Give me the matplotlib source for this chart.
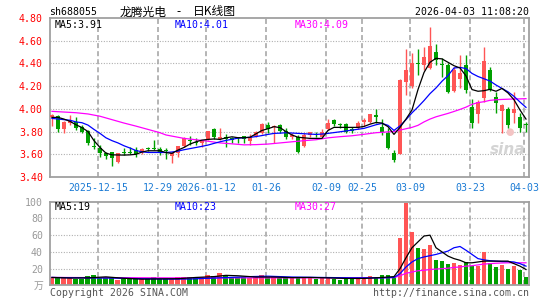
import matplotlib
matplotlib.use('Agg')
import matplotlib.pyplot as plt
import numpy as np

plt.rcParams['lines.scale_dashes'] = False
plt.rcParams['font.family'] = ['DejaVu Sans Mono', 'Noto Sans CJK SC']

# ---------------- data ----------------
opens = [3.930, 3.936, 3.822, 3.878, 3.884, 3.836, 3.804, 3.672, 3.657, 3.613,
         3.616, 3.534, 3.622, 3.620, 3.637, 3.616, 3.654, 3.655, 3.646, 3.637,
         3.584, 3.608, 3.672, 3.725, 3.710, 3.700, 3.734, 3.822, 3.731, 3.749,
         3.746, 3.750, 3.760, 3.719, 3.760, 3.790, 3.857, 3.837, 3.857, 3.804,
         3.749, 3.749, 3.672, 3.769, 3.781, 3.754, 3.819, 3.901, 3.863, 3.863,
         3.819, 3.828, 3.887, 3.887, 3.942, 3.837, 3.784, 3.608, 3.602, 4.239,
         4.200, 4.406, 4.386, 4.357, 4.497, 4.398, 4.386, 4.160, 4.260, 4.386,
         4.019, 3.954, 4.098, 4.342, 4.107, 3.984, 3.998, 3.960, 3.931, 3.869]
highs = [3.951, 3.948, 3.890, 3.945, 3.931, 3.857, 3.813, 3.740, 3.681, 3.622,
         3.622, 3.612, 3.651, 3.666, 3.666, 3.651, 3.666, 3.725, 3.666, 3.651,
         3.622, 3.675, 3.749, 3.760, 3.740, 3.725, 3.807, 3.828, 3.828, 3.778,
         3.754, 3.754, 3.760, 3.778, 3.804, 3.872, 3.887, 3.857, 3.866, 3.828,
         3.784, 3.769, 3.784, 3.798, 3.798, 3.819, 3.907, 3.907, 3.878, 3.872,
         3.837, 3.895, 3.916, 3.954, 3.995, 3.907, 3.828, 3.637, 4.260, 4.530,
         4.490, 4.524, 4.547, 4.724, 4.571, 4.445, 4.401, 4.371, 4.474, 4.474,
         4.083, 4.078, 4.547, 4.371, 4.151, 4.042, 4.013, 4.151, 3.960, 3.887]
lows = [3.851, 3.799, 3.784, 3.857, 3.813, 3.784, 3.681, 3.649, 3.572, 3.555,
        3.496, 3.525, 3.593, 3.600, 3.572, 3.602, 3.631, 3.637, 3.593, 3.555,
        3.525, 3.572, 3.666, 3.681, 3.681, 3.666, 3.725, 3.731, 3.725, 3.666,
        3.696, 3.700, 3.696, 3.681, 3.754, 3.778, 3.790, 3.700, 3.790, 3.731,
        3.731, 3.614, 3.666, 3.754, 3.749, 3.749, 3.813, 3.848, 3.828, 3.790,
        3.784, 3.819, 3.848, 3.878, 3.878, 3.769, 3.643, 3.534, 3.599, 4.122,
        4.180, 4.298, 4.342, 4.348, 4.386, 4.283, 4.136, 4.151, 4.180, 4.142,
        3.828, 3.872, 4.063, 4.160, 3.960, 3.790, 3.828, 3.872, 3.798, 3.798]
closes = [3.945, 3.822, 3.884, 3.901, 3.831, 3.795, 3.696, 3.663, 3.613, 3.587,
          3.563, 3.608, 3.613, 3.610, 3.602, 3.643, 3.649, 3.648, 3.613, 3.628,
          3.608, 3.672, 3.740, 3.716, 3.700, 3.716, 3.804, 3.749, 3.749, 3.737,
          3.728, 3.745, 3.731, 3.749, 3.796, 3.866, 3.819, 3.849, 3.807, 3.754,
          3.766, 3.622, 3.769, 3.793, 3.772, 3.793, 3.872, 3.866, 3.854, 3.798,
          3.807, 3.872, 3.898, 3.951, 3.931, 3.798, 3.652, 3.549, 4.254, 4.342,
          4.400, 4.395, 4.459, 4.553, 4.430, 4.389, 4.151, 4.342, 4.312, 4.166,
          3.878, 4.063, 4.421, 4.166, 4.054, 4.033, 3.857, 3.998, 3.834, 3.860]
volumes = [9.5, 8.5, 8.5, 8.5, 7.5, 7.5, 11, 12, 9.5, 9.5,
           9.5, 6.5, 7.3, 7.3, 7.3, 7.3, 7.3, 9.5, 7.3, 7.3,
           7.3, 9.5, 9.5, 9.5, 9.5, 9.5, 12.4, 11, 15, 12,
           9.5, 10, 9.5, 8.4, 9.6, 12.4, 9.6, 9.6, 8.4, 8.4,
           9.6, 9.6, 9.6, 9.6, 8, 9.6, 9.6, 8, 6.8, 8,
           8.8, 8, 8, 11.6, 9.6, 12.7, 12, 9.6, 56.6, 98.4,
           63.7, 44.6, 43.8, 47.8, 30.7, 28.7, 25.5, 26.7, 24.7, 27.9,
           23, 23, 40, 27, 22, 24, 20, 23, 18, 9.6]

# price moving averages, read at sample candles
ma5_idx = [0, 1, 2, 3, 4, 5, 6, 7, 8, 9, 10, 12, 13, 14, 15, 16, 18, 19, 20, 21,
           22, 23, 24, 25, 26, 27, 28, 29, 30, 31, 32, 33, 34, 35, 36, 37, 38, 39, 40, 41,
           43, 45, 46, 47, 51, 52, 53, 54, 55, 56, 57, 58, 59, 60, 61, 62, 63, 64, 65, 66,
           67, 68, 69, 70, 71, 72, 73, 74, 75, 76, 77, 78, 79]
ma5_val = [3.925, 3.925, 3.91, 3.89, 3.86, 3.835, 3.80, 3.72, 3.66, 3.61, 3.595, 3.593, 3.595, 3.60, 3.62, 3.631, 3.631, 3.615, 3.608, 3.637,
           3.66, 3.69, 3.71, 3.725, 3.731, 3.735, 3.731, 3.745, 3.754, 3.746, 3.746, 3.75, 3.78, 3.81, 3.825, 3.843, 3.835, 3.80, 3.77, 3.75,
           3.74, 3.74, 3.81, 3.837, 3.837, 3.845, 3.865, 3.88, 3.875, 3.843, 3.775, 3.837, 3.91, 3.99, 4.17, 4.32, 4.41, 4.445, 4.44, 4.41,
           4.38, 4.36, 4.29, 4.17, 4.155, 4.16, 4.172, 4.155, 4.18, 4.14, 4.08, 3.99, 3.91]
ma10_idx = [0, 2, 3, 4, 5, 6, 7, 8, 9, 10, 11, 12, 13, 14, 15, 16, 19, 20, 21, 22,
            23, 24, 25, 26, 27, 28, 29, 30, 31, 32, 33, 34, 35, 36, 37, 38, 39, 41, 44, 45,
            46, 48, 50, 52, 54, 55, 56, 57, 58, 59, 60, 61, 62, 63, 64, 65, 66, 67, 68, 69,
            70, 71, 72, 73, 74, 75, 76, 77, 78, 79]
ma10_val = [3.916, 3.905, 3.90, 3.885, 3.878, 3.857, 3.819, 3.784, 3.745, 3.72, 3.70, 3.675, 3.655, 3.633, 3.622, 3.616, 3.616, 3.62, 3.628, 3.64,
            3.65, 3.66, 3.67, 3.681, 3.696, 3.71, 3.722, 3.732, 3.742, 3.746, 3.749, 3.756, 3.765, 3.775, 3.784, 3.786, 3.79, 3.784, 3.775, 3.778,
            3.784, 3.798, 3.813, 3.828, 3.86, 3.872, 3.855, 3.81, 3.85, 3.905, 3.965, 4.017, 4.073, 4.134, 4.184, 4.243, 4.293, 4.36, 4.365, 4.355,
            4.312, 4.285, 4.265, 4.245, 4.21, 4.18, 4.15, 4.11, 4.06, 4.013]
ma30_idx = [0, 4, 6, 8, 10, 12, 14, 16, 18, 19, 20, 22, 24, 26, 28, 30, 32, 34, 36, 38,
            40, 42, 44, 46, 48, 50, 52, 54, 56, 57, 58, 59, 60, 61, 62, 63, 64, 65, 66, 67,
            68, 69, 70, 71, 72, 73, 74, 75, 76, 77, 78, 79]
ma30_val = [3.978, 3.966, 3.955, 3.935, 3.905, 3.875, 3.848, 3.819, 3.79, 3.77, 3.76, 3.74, 3.728, 3.715, 3.70, 3.692, 3.683, 3.685, 3.69, 3.70,
            3.71, 3.72, 3.728, 3.745, 3.755, 3.763, 3.776, 3.79, 3.797, 3.80, 3.813, 3.825, 3.837, 3.855, 3.885, 3.91, 3.93, 3.945, 3.96, 3.977,
            3.995, 4.015, 4.04, 4.055, 4.063, 4.075, 4.08, 4.083, 4.085, 4.087, 4.088, 4.09]

# volume moving averages, read at sample candles
vma5_idx = [0, 3, 6, 9, 12, 15, 18, 21, 24, 27, 29, 31, 34, 37, 40, 43, 46, 49, 52, 55,
            57, 58, 59, 60, 61, 62, 63, 64, 65, 66, 67, 68, 69, 70, 71, 72, 74, 76, 77, 78, 79]
vma5_val = [9.5, 8.8, 9, 10.2, 8.5, 7.5, 7.8, 8, 9.5, 10.5, 12, 11.5, 10, 10, 9.3, 9.5, 9, 8.3, 8.3, 9.5,
            10.5, 20, 33, 45, 52, 59, 60, 45, 40, 35, 32, 30, 27, 27, 28, 29, 29, 29, 26, 23, 19]
vma10_idx = [0, 5, 10, 15, 20, 23, 26, 30, 33, 36, 40, 45, 50, 55, 57, 58, 59, 60, 61, 62,
             63, 64, 65, 66, 67, 68, 69, 70, 71, 72, 73, 74, 75, 76, 77, 78, 79]
vma10_val = [9.5, 9, 8.8, 8, 7.5, 7.6, 8.5, 9.6, 10.5, 11, 10, 9.5, 9, 9, 9.5, 14, 22, 28, 32, 34,
             35.5, 37, 39, 41, 45, 46.5, 42, 37, 32, 30.5, 29.5, 29, 28.5, 28.5, 28, 26, 23]
vma30_idx = [0, 20, 40, 57, 58, 59, 60, 61, 62, 63, 64, 65, 66, 67, 68, 69, 70, 71, 72, 73,
             74, 75, 76, 77, 78, 79]
vma30_val = [9.5, 9, 9, 9.3, 11.5, 14.5, 16, 17.5, 18, 19, 19.5, 20, 20.5, 21.5, 22, 23, 23.5, 24.5, 25.5, 26,
             26.5, 26.8, 27, 27, 27, 27]

date_idx = [8, 18, 26, 36, 46, 52, 60, 70, 79]
date_labels = ['2025-12-15', '12-29', '2026-01-12', '01-26', '02-09', '02-25', '03-09', '03-23', '04-03']
price_ticks = [3.40, 3.60, 3.80, 4.00, 4.20, 4.40, 4.60, 4.80]
vol_ticks = [0, 20, 40, 60, 80, 100]
vol_tick_labels = ['万', '20', '40', '60', '80', '100']

# ---------------- styling ----------------
RED = '#ff5555'
GREEN = '#00a000'
GRID = '#a8a8a8'
BORDER = '#a0a0a0'
FS = 7.1

W, H = 545, 300
fig = plt.figure(figsize=(W / 100, H / 100), dpi=100)
fig.patch.set_facecolor('white')


def fx(px):
    return px / W


def fy(py):
    return 1 - py / H


ax = fig.add_axes([fx(50), fy(177), fx(529) - fx(50), fy(18) - fy(177)])
axv = fig.add_axes([fx(50), fy(285.4), fx(529) - fx(50), fy(201.7) - fy(285.4)])

o = np.array(opens)
h = np.array(highs)
l = np.array(lows)
c = np.array(closes)
v = np.array(volumes)
idx = np.arange(len(o))
up = c >= o
cols = np.where(up, RED, GREEN)

grid_x = [i - 0.3 for i in date_idx]

for a in (ax, axv):
    a.set_xlim(-0.33, 79.5)
    for s in a.spines.values():
        s.set_color(BORDER)
        s.set_linewidth(1.3)
    a.tick_params(length=0)
    for gx in grid_x:
        a.axvline(gx, color=GRID, lw=1.2, dashes=(3.6, 2.2), zorder=0)

# sina watermark (behind the data)
ax.text(0.955, 0.17, 'sina', transform=ax.transAxes, ha='center', va='center', fontsize=11,
        style='italic', weight='bold', color='#d4d4d4', family='DejaVu Sans', zorder=1)
ax.text(0.96, 0.285, '●', transform=ax.transAxes, ha='center', va='center', fontsize=7,
        color='#f3c4c4', family='DejaVu Sans', zorder=1)

# main price panel
ax.set_ylim(3.40, 4.80)
for pt in price_ticks[1:-1]:
    ax.axhline(pt, color=GRID, lw=0.8, dashes=(0.72, 1.2), zorder=0)
ax.vlines(idx, l, h, colors=cols, lw=1.0, zorder=2)
body_bottom = np.minimum(o, c)
body_h = np.maximum(np.abs(c - o), 0.009)
ax.bar(idx, body_h, bottom=body_bottom, width=0.8, color=cols, linewidth=0, zorder=3)
ax.plot(ma30_idx, ma30_val, color='#ff00ff', lw=0.9, zorder=4)
ax.plot(ma10_idx, ma10_val, color='#0000ff', lw=0.9, zorder=4)
ax.plot(ma5_idx, ma5_val, color='black', lw=0.9, zorder=5)
ax.set_yticks(price_ticks)
ax.set_yticklabels(['%.2f' % t for t in price_ticks], color='#ff0000', fontsize=FS)
ax.set_xticks(grid_x)
ax.set_xticklabels(date_labels, color='#1a7ad4', fontsize=FS)
ax.tick_params(axis='y', pad=5)
ax.tick_params(axis='x', pad=4)

# volume panel
axv.set_ylim(0, 100)
for vt in vol_ticks[1:-1]:
    axv.axhline(vt, color=GRID, lw=0.8, dashes=(0.72, 1.2), zorder=0)
axv.bar(idx, v, width=0.83, color=cols, linewidth=0, zorder=2)
axv.plot(vma30_idx, vma30_val, color='#ff00ff', lw=0.9, zorder=4)
axv.plot(vma10_idx, vma10_val, color='#0000ff', lw=0.9, zorder=4)
axv.plot(vma5_idx, vma5_val, color='black', lw=0.9, zorder=5)
axv.set_yticks(vol_ticks)
axv.set_yticklabels(vol_tick_labels, color='#999999', fontsize=FS)
axv.tick_params(axis='y', pad=5)
axv.set_xticks([])

# texts
fig.text(fx(49.5), fy(12), 'sh688055', ha='left', va='center', fontsize=FS, color='black')
fig.text(fx(120), fy(12), '龙腾光电', ha='left', va='center', fontsize=8.5,
         color='black', family=['Noto Sans CJK SC', 'DejaVu Sans'])
fig.text(fx(179), fy(12), '-', ha='center', va='center', fontsize=8.5,
         color='black', family=['Noto Sans CJK SC', 'DejaVu Sans'])
fig.text(fx(236), fy(12), '日K线图', ha='right', va='center', fontsize=8.5,
         color='black', family=['Noto Sans CJK SC', 'DejaVu Sans'])
fig.text(fx(529), fy(12), '2026-04-03 11:08:20', ha='right', va='center', fontsize=FS, color='black')

fig.text(fx(54.5), fy(24.5), 'MA5:3.91', ha='left', va='center', fontsize=FS, color='black')
fig.text(fx(174.5), fy(24.5), 'MA10:4.01', ha='left', va='center', fontsize=FS, color='#0000ff')
fig.text(fx(294.5), fy(24.5), 'MA30:4.09', ha='left', va='center', fontsize=FS, color='#ff00ff')

fig.text(fx(54.5), fy(206.5), 'MA5:19', ha='left', va='center', fontsize=FS, color='black')
fig.text(fx(174.5), fy(206.5), 'MA10:23', ha='left', va='center', fontsize=FS, color='#0000ff')
fig.text(fx(294.5), fy(206.5), 'MA30:27', ha='left', va='center', fontsize=FS, color='#ff00ff')

fig.text(fx(50), fy(292.5), 'Copyright 2026 SINA.COM', ha='left', va='center', fontsize=FS, color='#555555')
fig.text(fx(529), fy(292.5), 'http://finance.sina.com.cn', ha='right', va='center', fontsize=FS, color='#555555')

fig.savefig('out.png', dpi=100)
